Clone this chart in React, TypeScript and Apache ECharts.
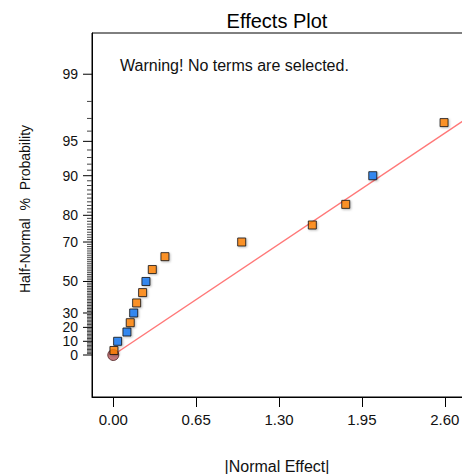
import React, { useEffect, useRef } from "react";
import * as echarts from "echarts";

// |Normal Effect| values and half-normal % probability
const positiveEffects = [0.005, 0.133, 0.183, 0.23, 0.306, 0.405, 1.007, 1.561, 1.823, 2.594];
const positiveProb = [3.3, 23.3, 36.7, 43.3, 56.7, 63.3, 70, 76.7, 83.3, 96.7];
const negativeEffects = [0.034, 0.107, 0.16, 0.256, 2.035];
const negativeProb = [10, 16.7, 30, 50, 90];
const originEffect = [0];
const originProb = [0];

// reference line: |effect| = sigma * z
const refSigma = 1.277;
const refLineEffects = [0, 3.2];

const xTickValues = [0, 0.65, 1.3, 1.95, 2.6];
const yMajorPercents = [0, 10, 20, 30, 50, 70, 80, 90, 95, 99];
const yMinorPercents = Array.from({ length: 100 }, (_, i) => i);

const FONT = "Liberation Sans, Arial, sans-serif";

function invNorm(p: number): number {
  const a = [-3.969683028665376e1, 2.209460984245205e2, -2.759285104469687e2, 1.38357751867269e2, -3.066479806614716e1, 2.506628277459239];
  const b = [-5.447609879822406e1, 1.615858368580409e2, -1.556989798598866e2, 6.680131188771972e1, -1.328068155288572e1];
  const c = [-7.784894002430293e-3, -3.223964580411365e-1, -2.400758277161838, -2.549671010070657, 4.374664141464968, 2.938163982698783];
  const d = [7.784695709041462e-3, 3.224671290700398e-1, 2.445134137142996, 3.754408661907416];
  const plow = 0.02425;
  const phigh = 1 - plow;
  if (p < plow) {
    const q = Math.sqrt(-2 * Math.log(p));
    return (((((c[0] * q + c[1]) * q + c[2]) * q + c[3]) * q + c[4]) * q + c[5]) / ((((d[0] * q + d[1]) * q + d[2]) * q + d[3]) * q + 1);
  }
  if (p <= phigh) {
    const q = p - 0.5;
    const r = q * q;
    return ((((((a[0] * r + a[1]) * r + a[2]) * r + a[3]) * r + a[4]) * r + a[5]) * q) / (((((b[0] * r + b[1]) * r + b[2]) * r + b[3]) * r + b[4]) * r + 1);
  }
  const q = Math.sqrt(-2 * Math.log(1 - p));
  return -(((((c[0] * q + c[1]) * q + c[2]) * q + c[3]) * q + c[4]) * q + c[5]) / ((((d[0] * q + d[1]) * q + d[2]) * q + d[3]) * q + 1);
}

// half-normal probability scale
const hz = (pct: number) => invNorm(0.5 + pct / 200);

export default function App() {
  const ref = useRef<HTMLDivElement>(null);
  useEffect(() => {
    if (!ref.current) return;
    const chart = echarts.init(ref.current, undefined, { renderer: "svg" });
    const yMin = -0.3853;
    const yMax = 2.954;
    const xMin = -0.167;
    const xMax = 2.97;
    const majorSet = new Set(yMajorPercents);
    const tickData = yMinorPercents.map((p) => [xMin, hz(p), majorSet.has(p) ? 1 : 0, p]);
    const textStyle = { fontFamily: FONT, color: "#111" };
    chart.setOption({
      animation: false,
      grid: {
        left: 92,
        top: 33,
        width: 400,
        height: 364,
        outerBoundsMode: "none",
        containLabel: false,
        show: true,
        borderColor: "#000",
        borderWidth: 1,
        backgroundColor: "transparent",
      },
      xAxis: {
        type: "value",
        min: xMin,
        max: xMax,
        axisLine: { onZero: false, lineStyle: { color: "#000", width: 1 } },
        axisTick: { customValues: xTickValues, length: 10, lineStyle: { color: "#000" } },
        axisLabel: {
          customValues: xTickValues,
          margin: 15,
          formatter: (v: number) => v.toFixed(2),
          fontSize: 15,
          ...textStyle,
        },
        splitLine: { show: false },
      },
      yAxis: {
        type: "value",
        min: yMin,
        max: yMax,
        axisLine: { show: true, onZero: false, lineStyle: { color: "#000", width: 1 } },
        axisTick: { show: false },
        axisLabel: { show: false },
        splitLine: { show: false },
      },
      graphic: [
        {
          type: "text",
          x: 277,
          y: 21,
          style: {
            text: "Effects Plot",
            fontFamily: FONT,
            fontSize: 20,
            fill: "#000",
            textAlign: "center",
            textVerticalAlign: "middle",
          },
        },
        {
          type: "text",
          x: 120,
          y: 65,
          style: {
            text: "Warning! No terms are selected.",
            fontFamily: FONT,
            fontSize: 16,
            fill: "#111",
            textAlign: "left",
            textVerticalAlign: "middle",
          },
        },
        {
          type: "text",
          x: 277,
          y: 466,
          style: {
            text: "|Normal Effect|",
            fontFamily: FONT,
            fontSize: 16,
            fill: "#111",
            textAlign: "center",
            textVerticalAlign: "middle",
          },
        },
        {
          type: "text",
          x: 25,
          y: 209,
          rotation: Math.PI / 2,
          style: {
            text: "Half-Normal  %  Probability",
            fontFamily: FONT,
            fontSize: 14,
            fill: "#111",
            textAlign: "center",
            textVerticalAlign: "middle",
          },
        },
      ],
      series: [
        {
          // y-axis ticks and labels on the half-normal probability scale
          type: "custom",
          clip: false,
          silent: true,
          data: tickData,
          encode: { x: 0, y: 1 },
          renderItem: (params: any, api: any) => {
            const pt = api.coord([api.value(0), api.value(1)]);
            const major = api.value(2) === 1;
            const len = major ? 9 : 5;
            const children: any[] = [
              {
                type: "line",
                shape: { x1: pt[0] - len, y1: pt[1], x2: pt[0], y2: pt[1] },
                style: { stroke: major ? "#000" : "#444", lineWidth: 1 },
              },
            ];
            if (major) {
              children.push({
                type: "text",
                x: pt[0] - 14,
                y: pt[1],
                style: {
                  text: String(api.value(3)),
                  fontFamily: FONT,
                  fontSize: 14,
                  lineHeight: 12,
                  fill: "#111",
                  textAlign: "right",
                  textVerticalAlign: "middle",
                },
              });
            }
            return { type: "group", children };
          },
          z: 1,
        },
        {
          type: "line",
          data: refLineEffects.map((e) => [e, e / refSigma]),
          symbol: "none",
          lineStyle: { color: "#ff7878", width: 1.5 },
          clip: true,
          silent: true,
          z: 1,
        },
        {
          type: "scatter",
          data: originEffect.map((e, i) => [e, hz(originProb[i])]),
          symbol: "circle",
          symbolSize: 11,
          itemStyle: { color: "#b5565a", borderColor: "#4a1a1a", borderWidth: 1 },
          z: 2,
        },
        {
          type: "scatter",
          data: negativeEffects.map((e, i) => [e, hz(negativeProb[i])]),
          symbol: "rect",
          symbolSize: 8,
          itemStyle: {
            color: "#0a74f2",
            borderColor: "#111",
            borderWidth: 1,
            shadowColor: "rgba(0,0,0,0.3)",
            shadowBlur: 2,
            shadowOffsetX: 1,
            shadowOffsetY: 1,
          },
          z: 3,
        },
        {
          type: "scatter",
          data: positiveEffects.map((e, i) => [e, hz(positiveProb[i])]),
          symbol: "rect",
          symbolSize: 8,
          itemStyle: {
            color: "#ff8000",
            borderColor: "#111",
            borderWidth: 1,
            shadowColor: "rgba(0,0,0,0.3)",
            shadowBlur: 2,
            shadowOffsetX: 1,
            shadowOffsetY: 1,
          },
          z: 3,
        },
      ],
    });
    return () => chart.dispose();
  }, []);
  return (
    <div
      ref={ref}
      style={{ position: "fixed", left: 0, top: 0, width: 462, height: 474, background: "#fff" }}
    />
  );
}
